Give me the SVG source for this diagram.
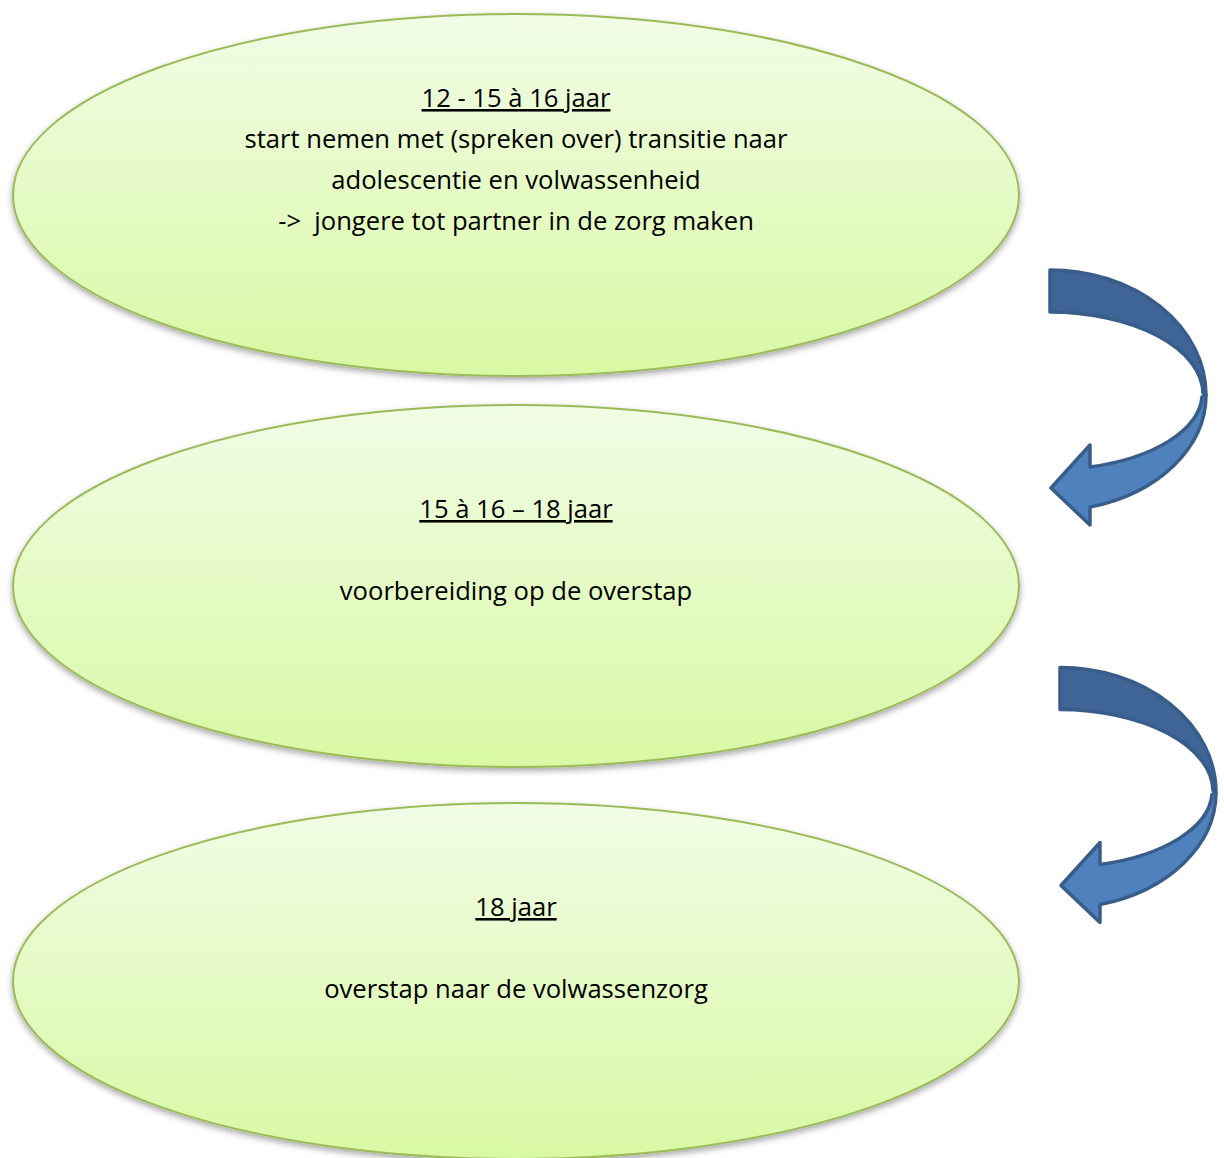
<svg xmlns="http://www.w3.org/2000/svg" width="1224" height="1158" viewBox="0 0 1224 1158">
<style>
.node ellipse{fill:url(#g);stroke:#9bbb59;stroke-width:2;filter:url(#sh)}
.t{font-family:"Open Sans","Liberation Sans",sans-serif;font-size:25.6px;fill:#000;text-anchor:middle}
.u{text-decoration:underline}
.back{fill:#3e6595;stroke:#385d8a;stroke-width:3.5;stroke-linejoin:round}
.front{fill:#4f81bd;stroke:#385d8a;stroke-width:3.5;stroke-linejoin:round}
</style>
<defs>
<linearGradient id="g" x1="0" y1="0" x2="0" y2="1">
<stop offset="0" stop-color="#f2fce6"/>
<stop offset="1" stop-color="#d8f9a4"/>
</linearGradient>
<filter id="sh" x="-5%" y="-5%" width="110%" height="115%">
<feDropShadow dx="0" dy="3" stdDeviation="3" flood-color="#000" flood-opacity="0.35"/>
</filter>
<g id="arrowShape">
<path class="back" d="M1050,270 A156,125 0 0 1 1206,395 L1203,393 A153,82 0 0 0 1050,312 Z"/>
<path class="front" d="M1206,395 A156,116 0 0 1 1090,507 L1090,525 L1051,488 L1090,445 L1090,467 A152,76 0 0 0 1202,397 Z"/>
</g>
</defs>
<rect width="1224" height="1158" fill="#fff"/>
<g id="node1" class="node">
<ellipse cx="516" cy="195" rx="503" ry="181"/>
<text class="t u" x="516" y="107">12 - 15 à 16 jaar</text>
<text class="t" x="516" y="148">start nemen met (spreken over) transitie naar</text>
<text class="t" x="516" y="189">adolescentie en volwassenheid</text>
<text class="t" x="516" y="230" xml:space="preserve">-&gt;  jongere tot partner in de zorg maken</text>
</g>
<g id="node2" class="node">
<ellipse cx="516" cy="586" rx="503" ry="181"/>
<text class="t u" x="516" y="518">15 à 16 – 18 jaar</text>
<text class="t" x="516" y="600">voorbereiding op de overstap</text>
</g>
<g id="node3" class="node">
<ellipse cx="516" cy="981" rx="503" ry="178"/>
<text class="t u" x="516" y="916">18 jaar</text>
<text class="t" x="516" y="998">overstap naar de volwassenzorg</text>
</g>
<g id="connectors">
<use href="#arrowShape"/>
<use href="#arrowShape" transform="translate(10,397.5)"/>
</g>
</svg>
